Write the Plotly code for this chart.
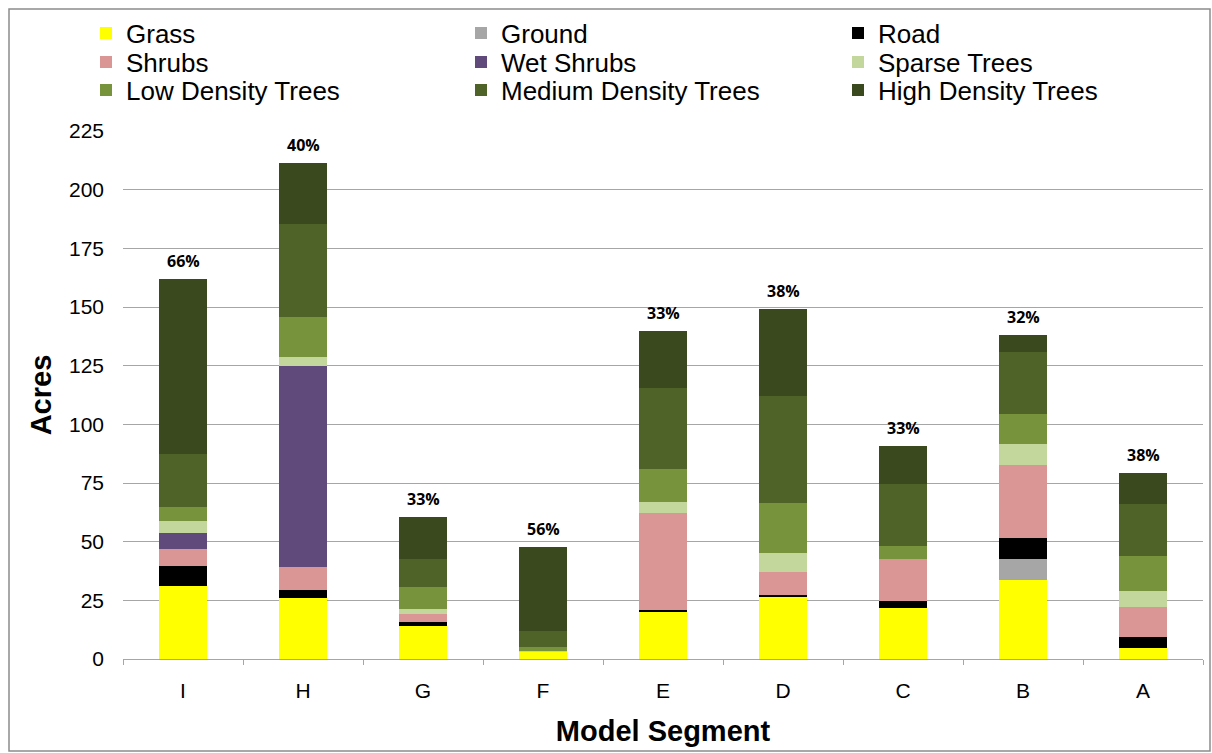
import plotly.graph_objects as go

# Model segments, in display order
segments = ["I", "H", "G", "F", "E", "D", "C", "B", "A"]

# Acres of each cover class per segment
grass = [31.1, 25.9, 14.2, 3.1, 20.2, 26.8, 21.9, 33.7, 4.6]
ground = [0.0, 0.0, 0.0, 0.0, 0.0, 0.0, 0.0, 9.1, 0.0]
road = [8.7, 3.5, 1.4, 0.0, 0.6, 0.6, 2.9, 8.8, 4.9]
shrubs = [7.2, 9.9, 3.4, 0.0, 41.3, 9.7, 17.8, 31.1, 12.7]
wet_shrubs = [6.5, 85.5, 0.0, 0.0, 0.0, 0.0, 0.0, 0.0, 0.0]
sparse_trees = [5.4, 4.0, 2.4, 0.5, 4.8, 8.2, 0.0, 9.0, 6.8]
low_density = [6.0, 17.0, 9.1, 1.4, 14.2, 21.3, 5.5, 12.7, 14.9]
medium_density = [22.4, 39.5, 12.0, 6.9, 34.4, 45.5, 26.3, 26.4, 22.0]
high_density = [74.5, 26.2, 18.1, 35.9, 24.4, 36.9, 16.3, 7.2, 13.2]

# Percentage shown above each bar
pct_labels = ["66%", "40%", "33%", "56%", "33%", "38%", "33%", "32%", "38%"]

series = [
    ("Grass", grass, "#FFFF00"),
    ("Ground", ground, "#A6A6A6"),
    ("Road", road, "#000000"),
    ("Shrubs", shrubs, "#D99694"),
    ("Wet Shrubs", wet_shrubs, "#604A7B"),
    ("Sparse Trees", sparse_trees, "#C3D69B"),
    ("Low Density Trees", low_density, "#77933C"),
    ("Medium Density Trees", medium_density, "#4F6228"),
    ("High Density Trees", high_density, "#3A4A1E"),
]

FONT = "Liberation Sans, Arial, sans-serif"

# Plot area spans x 123..1203, y 131..659 (pixels)
W, H = 1212, 753
L, R, T, B = 123, 9, 131, 94
pw, ph = W - L - R, H - T - B


def px_x(px):
    return (px - L) / pw


def px_y(py):
    return (H - B - py) / ph


# Legend grid: 3 columns x 3 rows, one single-entry legend per cell
legend_cols = [86, 461, 838]
legend_rows = [33, 62, 90]

fig = go.Figure()
legend_layout = {}
for i, (name, vals, color) in enumerate(series):
    key = "legend" if i == 0 else f"legend{i + 1}"
    fig.add_trace(go.Bar(
        x=segments, y=vals, name=name, legend=key, showlegend=True,
        marker=dict(color=color, line=dict(width=0)),
    ))
    legend_layout[key] = dict(
        x=px_x(legend_cols[i % 3]), y=px_y(legend_rows[i // 3]),
        xanchor="left", yanchor="middle", orientation="v",
        bgcolor="rgba(0,0,0,0)", borderwidth=0,
        font=dict(family=FONT, size=26, color="#000000"),
        itemclick=False, itemdoubleclick=False,
    )

totals = [sum(v) for v in zip(*[s[1] for s in series])]
annotations = [
    dict(x=seg, y=tot, xref="x", yref="y", text=lab, showarrow=False,
         yanchor="bottom", yshift=5,
         font=dict(family="Open Sans, Liberation Sans, sans-serif", size=16,
                   color="#000000", weight="bold"))
    for seg, tot, lab in zip(segments, totals, pct_labels)
]

fig.update_layout(
    width=W, height=H,
    margin=dict(l=L, r=R, t=T, b=B),
    barmode="stack", bargap=0.6,
    showlegend=True,
    plot_bgcolor="white", paper_bgcolor="white",
    font=dict(family=FONT, color="#000000"),
    annotations=annotations,
    xaxis=dict(
        showline=True, linecolor="#A6A6A6", linewidth=1,
        ticks="outside", tickson="boundaries", ticklen=5, tickcolor="#A6A6A6",
        ticklabelstandoff=13,
        tickfont=dict(family=FONT, size=21, color="#000000"),
        title=dict(text="Model Segment", standoff=19,
                   font=dict(family=FONT, size=29, color="#000000", weight="bold")),
        showgrid=False,
    ),
    yaxis=dict(
        range=[0, 225], tick0=0, dtick=25,
        showgrid=True, gridcolor="#A6A6A6", gridwidth=1,
        showline=False, zeroline=False, ticks="",
        ticklabelstandoff=18,
        tickfont=dict(family=FONT, size=21, color="#000000"),
        title=dict(text="Acres", standoff=8,
                   font=dict(family=FONT, size=29, color="#000000", weight="bold")),
    ),
    shapes=[dict(
        type="rect", xref="paper", yref="paper",
        x0=px_x(9), x1=px_x(1210), y0=px_y(751), y1=px_y(9),
        line=dict(color="#8C8C8C", width=1.5), fillcolor="rgba(0,0,0,0)",
        layer="below",
    )],
    **legend_layout,
)

fig.write_html("out.html")
